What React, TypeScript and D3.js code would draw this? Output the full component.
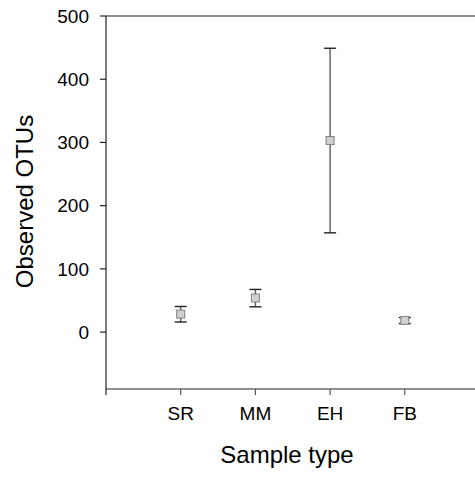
import React from "react";
import * as d3 from "d3";

const categories = ["SR", "MM", "EH", "FB"];
const means = [28.5, 54, 303, 18.5];
const upper = [40.5, 67.5, 449, 23];
const lower = [16, 40, 157, 13.5];
const yTicks = [0, 100, 200, 300, 400, 500];

export default function App() {
  const W = 475, H = 479;
  const left = 106, right = 479.5, top = 16, bottom = 389;
  const x = d3.scaleLinear().domain([0, 5]).range([left, right]);
  const y = d3.scaleLinear().domain([-90, 500]).range([bottom, top]);
  const font = "'Liberation Sans', Arial, sans-serif";
  const capW = 6;
  return (
    <svg width={W} height={H} style={{ position: "absolute", left: 0, top: 0, background: "#fff" }}>
      {/* axes */}
      <line x1={left} x2={left} y1={top} y2={bottom} stroke="#222" strokeWidth={1.2} />
      <line x1={left} x2={W} y1={top} y2={top} stroke="#222" strokeWidth={1.2} />
      <line x1={left} x2={W} y1={bottom} y2={bottom} stroke="#222" strokeWidth={1.2} />
      {yTicks.map((t) => (
        <g key={t}>
          <line x1={left - 6} x2={left} y1={y(t)} y2={y(t)} stroke="#222" strokeWidth={1.2} />
          <text x={89} y={y(t)} dy="0.35em" textAnchor="end" fontFamily={font} fontSize={19} fill="#000">
            {t}
          </text>
        </g>
      ))}
      <line x1={x(0)} x2={x(0)} y1={bottom} y2={bottom + 6} stroke="#222" strokeWidth={1.2} />
      {categories.map((c, i) => (
        <g key={c}>
          <line x1={x(i + 1)} x2={x(i + 1)} y1={bottom} y2={bottom + 6} stroke="#555" strokeWidth={1.2} />
          <text x={x(i + 1)} y={420} textAnchor="middle" fontFamily={font} fontSize={19} fill="#000">
            {c}
          </text>
        </g>
      ))}
      {/* error bars and markers */}
      {categories.map((c, i) => {
        const cx = x(i + 1);
        return (
          <g key={"e" + c}>
            <line x1={cx} x2={cx} y1={y(upper[i])} y2={y(lower[i])} stroke="#666" strokeWidth={1.5} />
            <line x1={cx - capW} x2={cx + capW} y1={y(upper[i])} y2={y(upper[i])} stroke="#222" strokeWidth={1.4} />
            <line x1={cx - capW} x2={cx + capW} y1={y(lower[i])} y2={y(lower[i])} stroke="#222" strokeWidth={1.4} />
            <rect x={cx - 4} y={y(means[i]) - 4} width={8} height={8} fill="#d0d0d0" stroke="#808080" strokeWidth={1} />
          </g>
        );
      })}
      <text x={287} y={463} textAnchor="middle" fontFamily={font} fontSize={24} fill="#000">
        Sample type
      </text>
      <text
        transform={`translate(33, 201.5) rotate(-90)`}
        textAnchor="middle"
        fontFamily={font}
        fontSize={24}
        fill="#000"
      >
        Observed OTUs
      </text>
    </svg>
  );
}
